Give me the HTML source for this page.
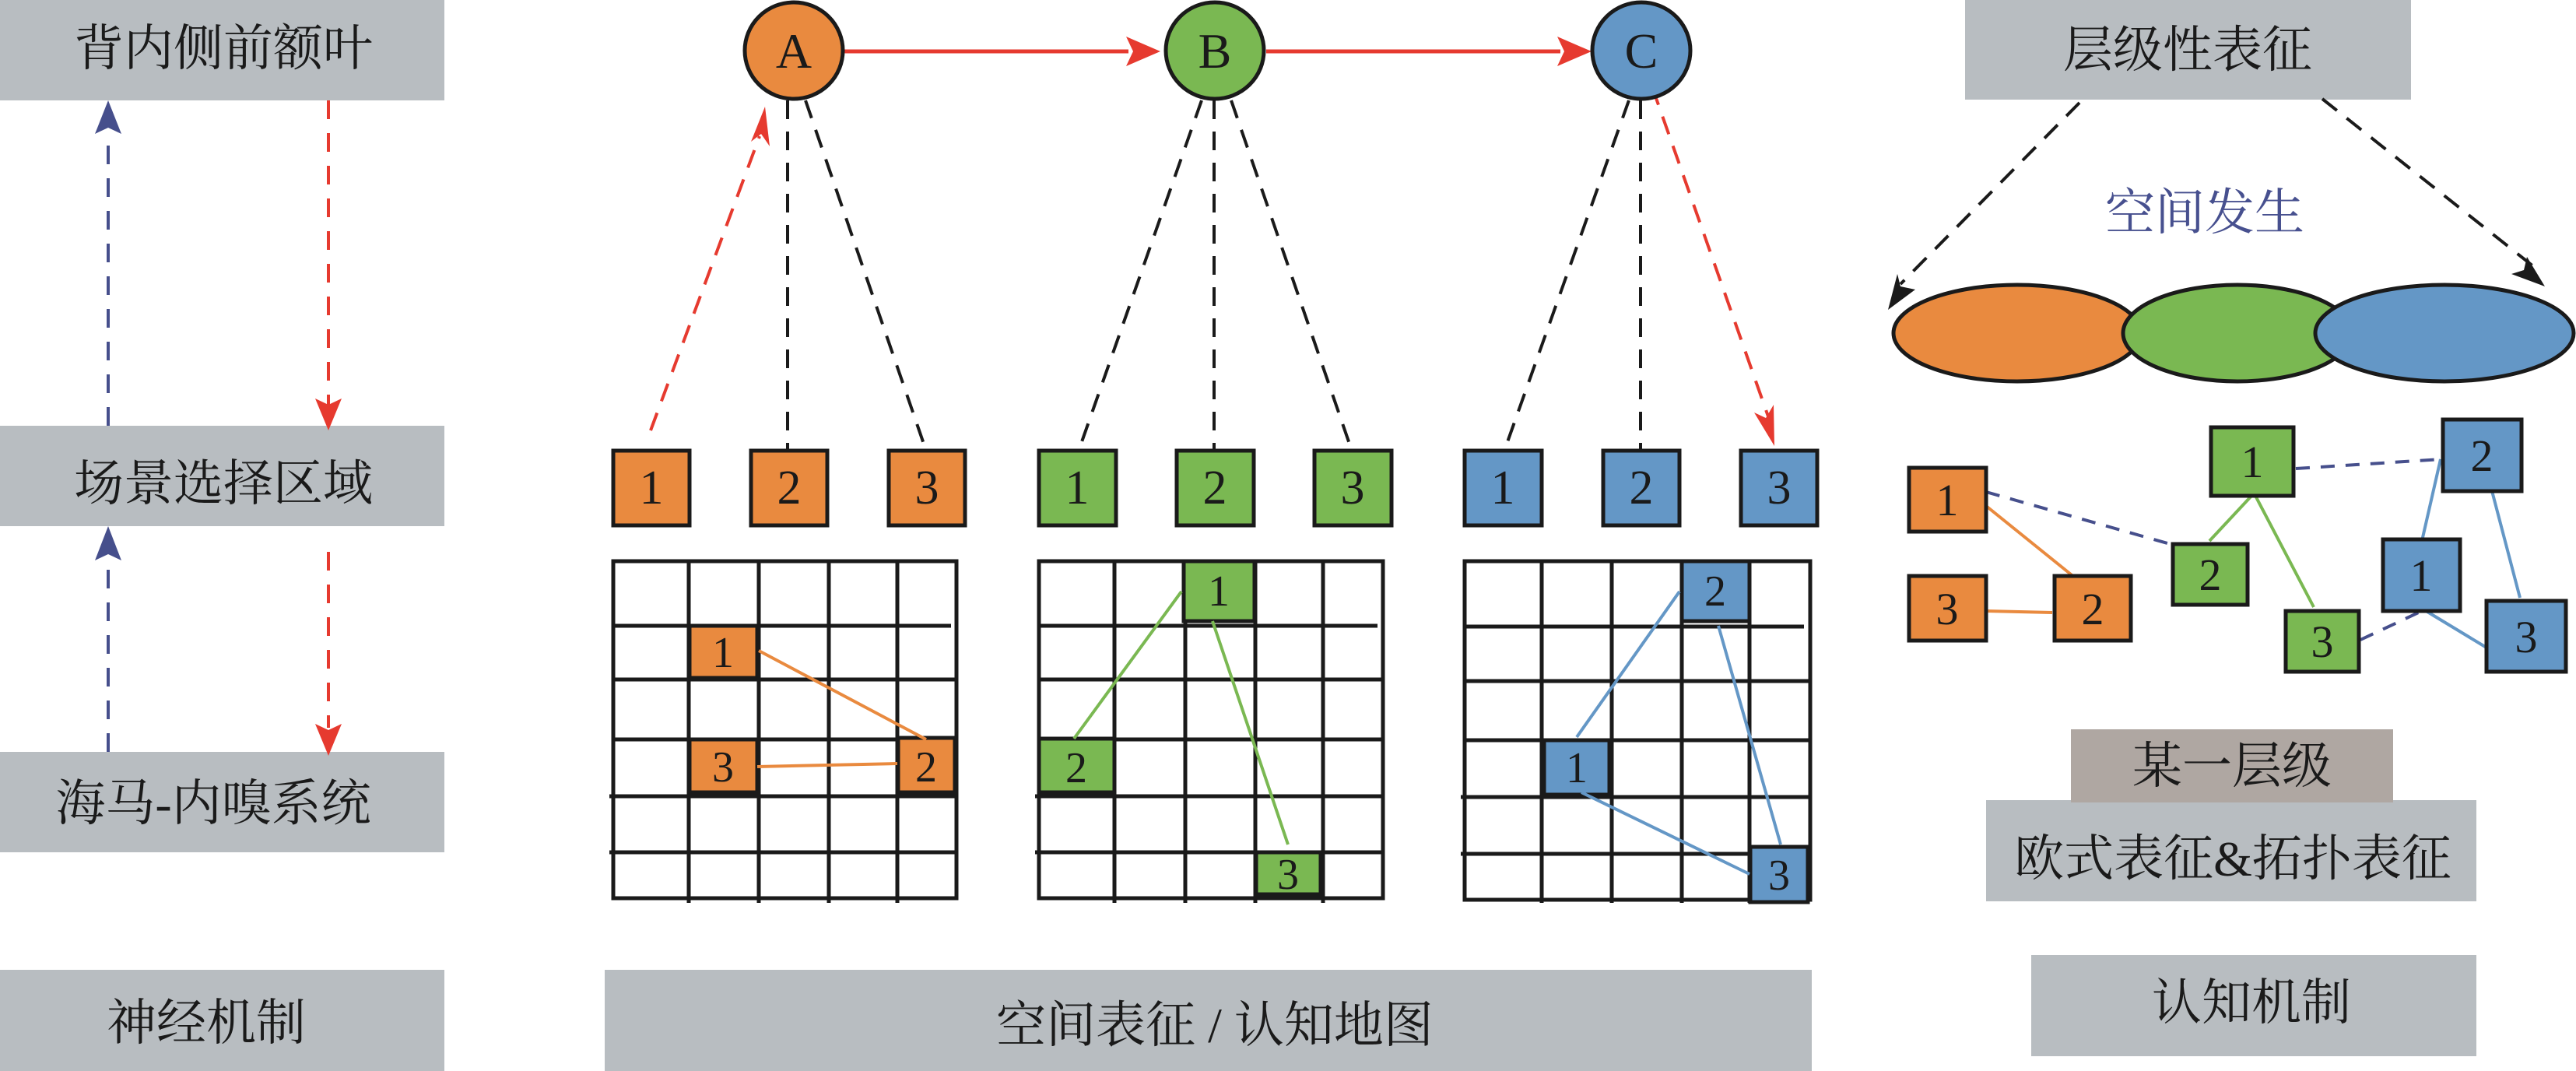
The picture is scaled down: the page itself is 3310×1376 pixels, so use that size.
<!DOCTYPE html>
<html><head><meta charset="utf-8"><style>
html,body{margin:0;padding:0;background:#fff;}
svg{display:block;}
.cn{font-family:"Liberation Serif","Noto Serif CJK SC",serif;fill:#1a1a1a;}
.num{font-family:"Liberation Serif",serif;fill:#1a1a1a;}
</style></head><body>
<svg width="3310" height="1376" viewBox="0 0 3310 1376" xmlns="http://www.w3.org/2000/svg">
<rect width="3310" height="1376" fill="#fff"/>

<g fill="#b8bdc1">
<rect x="0" y="0" width="571" height="129"/>
<rect x="0" y="547" width="571" height="129"/>
<rect x="0" y="966" width="571" height="129"/>
<rect x="0" y="1246" width="571" height="130"/>
<rect x="777" y="1246" width="1551" height="130"/>
<rect x="2525" y="0" width="573" height="128"/>
<rect x="2552" y="1028" width="630" height="130"/>
<rect x="2610" y="1227" width="572" height="130"/>
</g>
<rect x="2661" y="937" width="414" height="94" fill="#afa7a2"/>

<g class="cn" font-size="64" text-anchor="middle">
<text x="287" y="84">背内侧前额叶</text>
<text x="287" y="643">场景选择区域</text>
<text x="274" y="1054">海马-内嗅系统</text>
<text x="265" y="1336">神经机制</text>
<text x="1561" y="1339">空间表征 / 认知地图</text>
<text x="2811" y="86">层级性表征</text>
<text x="2868" y="1006">某一层级</text>
<text x="2869" y="1125">欧式表征&amp;拓扑表征</text>
<text x="2893" y="1310">认知机制</text>
<text x="2833" y="295" style="fill:#47508f">空间发生</text>
</g>

<line x1="139" y1="547" x2="139" y2="170" stroke="#464f8c" stroke-width="4" stroke-dasharray="24,18"/>
<path d="M139,129 L122,172 L139,164 L156,172 Z" fill="#464f8c"/>
<line x1="139" y1="966" x2="139" y2="715" stroke="#464f8c" stroke-width="4" stroke-dasharray="24,18"/>
<path d="M139,676 L122,720 L139,712 L156,720 Z" fill="#464f8c"/>
<line x1="422" y1="129" x2="422" y2="520" stroke="#e63a2f" stroke-width="4" stroke-dasharray="24,18"/>
<path d="M422,553 L405,512 L422,520 L439,512 Z" fill="#e63a2f"/>
<line x1="422" y1="709" x2="422" y2="935" stroke="#e63a2f" stroke-width="4" stroke-dasharray="24,18"/>
<path d="M422,971 L405,930 L422,938 L439,930 Z" fill="#e63a2f"/>

<g stroke="#1a1a1a" stroke-width="4" stroke-dasharray="24,16" fill="none">
<line x1="1012" y1="129" x2="1012" y2="579"/>
<line x1="1035" y1="129" x2="1190" y2="579"/>
<line x1="1544" y1="129" x2="1386" y2="579"/>
<line x1="1560" y1="129" x2="1560" y2="579"/>
<line x1="1582" y1="129" x2="1737" y2="579"/>
<line x1="2093" y1="129" x2="1933" y2="579"/>
<line x1="2108" y1="129" x2="2108" y2="579"/>
</g>
<line x1="836" y1="553" x2="976" y2="175" stroke="#e63a2f" stroke-width="4" stroke-dasharray="24,16"/>
<path d="M983,137 L965,182 L978,172 L989,188 Z" fill="#e63a2f"/>
<line x1="2123" y1="112" x2="2272" y2="535" stroke="#e63a2f" stroke-width="4" stroke-dasharray="24,16"/>
<path d="M2280,573 L2254,530 L2269,537 L2279,520 Z" fill="#e63a2f"/>

<line x1="1085" y1="66" x2="1450" y2="66" stroke="#e63a2f" stroke-width="5"/>
<path d="M1491,66 L1447,47 L1456,66 L1447,85 Z" fill="#e63a2f"/>
<line x1="1627" y1="66" x2="2005" y2="66" stroke="#e63a2f" stroke-width="5"/>
<path d="M2045,66 L2001,47 L2010,66 L2001,85 Z" fill="#e63a2f"/>

<g stroke="#1a1a1a" stroke-width="5">
<ellipse cx="1020" cy="65" rx="63" ry="62" fill="#e98a3f"/>
<ellipse cx="1561" cy="65" rx="63" ry="62" fill="#7ab852"/>
<ellipse cx="2109" cy="65" rx="63" ry="62" fill="#6497c6"/>
</g>
<g class="num" font-size="64" text-anchor="middle">
<text x="1020" y="87">A</text><text x="1561" y="87">B</text><text x="2109" y="87">C</text>
</g>

<g stroke="#1a1a1a" stroke-width="5">
<rect x="788" y="579" width="98" height="96" fill="#e98a3f"/>
<rect x="965" y="579" width="98" height="96" fill="#e98a3f"/>
<rect x="1142" y="579" width="98" height="96" fill="#e98a3f"/>
<rect x="1335" y="579" width="99" height="96" fill="#7ab852"/>
<rect x="1512" y="579" width="99" height="96" fill="#7ab852"/>
<rect x="1689" y="579" width="99" height="96" fill="#7ab852"/>
<rect x="1882" y="579" width="99" height="96" fill="#6497c6"/>
<rect x="2060" y="579" width="98" height="96" fill="#6497c6"/>
<rect x="2237" y="579" width="98" height="96" fill="#6497c6"/>
</g>
<g class="num" font-size="62" text-anchor="middle">
<text x="837" y="647">1</text><text x="1014" y="647">2</text><text x="1191" y="647">3</text>
<text x="1384" y="647">1</text><text x="1561" y="647">2</text><text x="1738" y="647">3</text>
<text x="1931" y="647">1</text><text x="2109" y="647">2</text><text x="2286" y="647">3</text>
</g>

<g stroke="#1a1a1a" stroke-width="5" fill="none">
<g>
<rect x="788" y="721" width="441" height="433"/>
<line x1="885" y1="721" x2="885" y2="1160"/><line x1="975" y1="721" x2="975" y2="1160"/><line x1="1065" y1="721" x2="1065" y2="1160"/><line x1="1153" y1="721" x2="1153" y2="1160"/>
<line x1="788" y1="804" x2="1222" y2="804"/><line x1="788" y1="873" x2="1229" y2="873"/><line x1="788" y1="950" x2="1229" y2="950"/><line x1="783" y1="1023" x2="1229" y2="1023"/><line x1="783" y1="1095" x2="1229" y2="1095"/>
</g>
<g>
<rect x="1335" y="721" width="442" height="433"/>
<line x1="1432" y1="721" x2="1432" y2="1160"/><line x1="1523" y1="721" x2="1523" y2="1160"/><line x1="1613" y1="721" x2="1613" y2="1160"/><line x1="1700" y1="721" x2="1700" y2="1160"/>
<line x1="1335" y1="804" x2="1770" y2="804"/><line x1="1335" y1="873" x2="1777" y2="873"/><line x1="1335" y1="950" x2="1777" y2="950"/><line x1="1330" y1="1023" x2="1777" y2="1023"/><line x1="1330" y1="1095" x2="1777" y2="1095"/>
</g>
<g>
<rect x="1882" y="721" width="444" height="435"/>
<line x1="1981" y1="721" x2="1981" y2="1160"/><line x1="2071" y1="721" x2="2071" y2="1160"/><line x1="2161" y1="721" x2="2161" y2="1160"/><line x1="2248" y1="721" x2="2248" y2="1160"/>
<line x1="1882" y1="805" x2="2318" y2="805"/><line x1="1882" y1="875" x2="2326" y2="875"/><line x1="1882" y1="951" x2="2326" y2="951"/><line x1="1877" y1="1024" x2="2326" y2="1024"/><line x1="1877" y1="1097" x2="2326" y2="1097"/>
</g>
</g>

<g stroke="#1a1a1a" stroke-width="5">
<rect x="886" y="804" width="87" height="67" fill="#e98a3f"/>
<rect x="886" y="950" width="87" height="68" fill="#e98a3f"/>
<rect x="1154" y="948" width="73" height="70" fill="#e98a3f"/>
<rect x="1521" y="721" width="91" height="77" fill="#7ab852"/>
<rect x="1335" y="949" width="97" height="69" fill="#7ab852"/>
<rect x="1614" y="1095" width="83" height="54" fill="#7ab852"/>
<rect x="2161" y="721" width="87" height="77" fill="#6497c6"/>
<rect x="1984" y="951" width="84" height="70" fill="#6497c6"/>
<rect x="2249" y="1088" width="74" height="71" fill="#6497c6"/>
</g>
<g class="num" font-size="56" text-anchor="middle">
<text x="929" y="857">1</text><text x="929" y="1004">3</text><text x="1190" y="1004">2</text>
<text x="1566" y="778">1</text><text x="1383" y="1005">2</text><text x="1655" y="1142">3</text>
<text x="2204" y="778">2</text><text x="2026" y="1005">1</text><text x="2286" y="1143">3</text>
</g>
<g stroke-width="4" fill="none">
<line x1="975" y1="836" x2="1190" y2="950" stroke="#e98a3f"/>
<line x1="973" y1="985" x2="1153" y2="981" stroke="#e98a3f"/>
<line x1="1518" y1="760" x2="1380" y2="949" stroke="#7ab852"/>
<line x1="1558" y1="798" x2="1655" y2="1085" stroke="#7ab852"/>
<line x1="2158" y1="760" x2="2026" y2="947" stroke="#6497c6"/>
<line x1="2208" y1="804" x2="2288" y2="1085" stroke="#6497c6"/>
<line x1="2032" y1="1018" x2="2248" y2="1123" stroke="#6497c6"/>
</g>

<!-- right: dashed arrows to ellipses -->
<g stroke="#1a1a1a" stroke-width="4" stroke-dasharray="24,16">
<line x1="2672" y1="132" x2="2442" y2="365"/>
<line x1="2984" y1="127" x2="3255" y2="342"/>
</g>
<path d="M2426,398 L2438,352 L2442,368 L2461,372 Z" fill="#1a1a1a"/>
<path d="M3270,368 L3227,352 L3243,347 L3247,330 Z" fill="#1a1a1a"/>
<g stroke="#1a1a1a" stroke-width="5">
<ellipse cx="2592" cy="428" rx="159" ry="62" fill="#e98a3f"/>
<ellipse cx="2875" cy="428" rx="147" ry="62" fill="#7ab852"/>
<ellipse cx="3141" cy="428" rx="166" ry="62" fill="#6497c6"/>
</g>

<!-- right: graph -->
<g stroke-width="4" fill="none">
<line x1="2552" y1="650" x2="2666" y2="742" stroke="#e98a3f"/>
<line x1="2552" y1="785" x2="2637" y2="787" stroke="#e98a3f"/>
<line x1="2895" y1="635" x2="2839" y2="695" stroke="#7ab852"/>
<line x1="2897" y1="635" x2="2973" y2="780" stroke="#7ab852"/>
<line x1="3136" y1="590" x2="3112" y2="695" stroke="#6497c6"/>
<line x1="3201" y1="627" x2="3238" y2="768" stroke="#6497c6"/>
<line x1="3114" y1="783" x2="3195" y2="832" stroke="#6497c6"/>
<g stroke="#464f8c" stroke-dasharray="18,14">
<line x1="2552" y1="632" x2="2792" y2="700"/>
<line x1="2950" y1="602" x2="3137" y2="590"/>
<line x1="3033" y1="822" x2="3112" y2="785"/>
</g>
</g>
<g stroke="#1a1a1a" stroke-width="5">
<rect x="2453" y="601" width="99" height="82" fill="#e98a3f"/>
<rect x="2453" y="740" width="99" height="83" fill="#e98a3f"/>
<rect x="2640" y="740" width="98" height="83" fill="#e98a3f"/>
<rect x="2841" y="549" width="106" height="88" fill="#7ab852"/>
<rect x="2792" y="699" width="96" height="78" fill="#7ab852"/>
<rect x="2937" y="785" width="94" height="78" fill="#7ab852"/>
<rect x="3139" y="539" width="101" height="92" fill="#6497c6"/>
<rect x="3062" y="693" width="99" height="92" fill="#6497c6"/>
<rect x="3195" y="772" width="102" height="91" fill="#6497c6"/>
</g>
<g class="num" font-size="58" text-anchor="middle">
<text x="2502" y="662">1</text><text x="2502" y="802">3</text><text x="2689" y="802">2</text>
<text x="2894" y="613">1</text><text x="2840" y="758">2</text><text x="2984" y="844">3</text>
<text x="3189" y="605">2</text><text x="3111" y="759">1</text><text x="3246" y="838">3</text>
</g>
</svg>
</body></html>
